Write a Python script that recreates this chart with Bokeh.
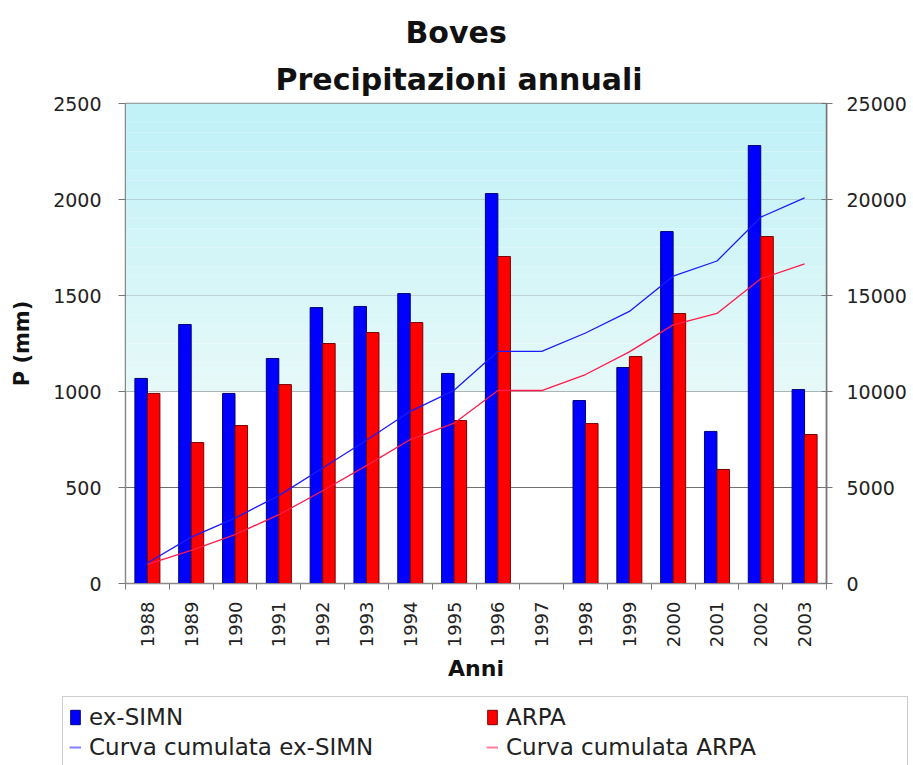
import numpy as np
from bokeh.plotting import figure
from bokeh.layouts import column
from bokeh.models import (Range1d, LinearAxis, FixedTicker, Legend, LegendItem,
                          Title, BoxAnnotation, ColumnDataSource)
from bokeh.transform import dodge
from bokeh.embed import file_html
from bokeh.resources import INLINE

# ---------------- data ----------------
years = [1988, 1989, 1990, 1991, 1992, 1993, 1994, 1995, 1996, 1997,
         1998, 1999, 2000, 2001, 2002, 2003]
ex_simn = [1068, 1349, 990, 1172, 1437, 1443, 1510, 1094, 2031, np.nan,
           953, 1125, 1833, 792, 2281, 1010]
arpa = [990, 734, 823, 1036, 1250, 1307, 1359, 849, 1703, np.nan,
        833, 1182, 1406, 594, 1807, 776]
cum_ex_simn = [1068, 2417, 3407, 4579, 6016, 7459, 8969, 10063, 12094, 12094,
               13047, 14172, 16005, 16797, 19078, 20088]
cum_arpa = [990, 1724, 2547, 3583, 4833, 6140, 7499, 8348, 10051, 10051,
            10884, 12066, 13472, 14066, 15873, 16649]
left_ticks = [0, 500, 1000, 1500, 2000, 2500]
right_ticks = [0, 5000, 10000, 15000, 20000, 25000]
series_labels = ["ex-SIMN", "ARPA", "Curva cumulata ex-SIMN", "Curva cumulata ARPA"]

src = ColumnDataSource(dict(year=years, simn=ex_simn, arpa=arpa,
                            csimn=cum_ex_simn, carpa=cum_arpa))

FONT = "DejaVu Sans"
BLUE, BLUE_EDGE = "#0000ff", "#00007a"
RED, RED_EDGE = "#ff0000", "#7a0000"
LBLUE, LRED = "#1a1aff", "#ff1a4a"

p = figure(width=913, height=690, output_backend="svg", toolbar_location=None,
           x_range=Range1d(1987.5, 2003.5), y_range=Range1d(0, 2500),
           min_border_left=125, min_border_right=87, min_border_top=103,
           min_border_bottom=107, background_fill_color="white",
           border_fill_color="white")
p.frame_align = False
p.extra_y_ranges = {"cum": Range1d(0, 25000)}

# light cyan background, fading towards the 1000 mm line
c_top = np.array([192, 242, 248])
c_bot = np.array([230, 249, 248])
n = 30
edges = np.linspace(1000, 2500, n + 1)
for i in range(n):
    t = i / (n - 1)
    c = (c_bot * (1 - t) + c_top * t).astype(int)
    p.add_layout(BoxAnnotation(bottom=edges[i], top=edges[i + 1],
                               fill_color="#%02x%02x%02x" % tuple(c),
                               fill_alpha=1, line_alpha=0, level="underlay"))

p.outline_line_color = "#8a8a8a"
p.outline_line_width = 1.5
p.xgrid.visible = False
p.ygrid.ticker = FixedTicker(ticks=left_ticks)
p.ygrid.grid_line_color = "#707070"
p.ygrid.grid_line_width = 1
p.ygrid.level = "underlay"

bw = 0.285
p.vbar(x=dodge("year", -0.143, range=p.x_range), top="simn", width=bw,
       source=src, fill_color=BLUE, line_color=BLUE_EDGE, line_width=1)
p.vbar(x=dodge("year", 0.143, range=p.x_range), top="arpa", width=bw,
       source=src, fill_color=RED, line_color=RED_EDGE, line_width=1)
p.line("year", "csimn", source=src, y_range_name="cum",
       line_color=LBLUE, line_width=1.3)
p.line("year", "carpa", source=src, y_range_name="cum",
       line_color=LRED, line_width=1.3)

# axes
xa = p.xaxis[0]
xa.ticker = FixedTicker(ticks=years, minor_ticks=[y - 0.5 for y in years] + [years[-1] + 0.5])
xa.major_tick_out = 0
xa.major_tick_in = 0
xa.minor_tick_out = 6
xa.minor_tick_in = 0
xa.minor_tick_line_color = "#777777"
xa.axis_line_color = "#8a8a8a"
xa.major_label_orientation = np.pi / 2
xa.major_label_text_font = FONT
xa.major_label_text_font_size = "18px"
xa.major_label_text_color = "#222222"
xa.major_label_standoff = 12
xa.axis_label = "Anni"
xa.axis_label_text_font = FONT
xa.axis_label_text_font_size = "22px"
xa.axis_label_text_font_style = "bold"
xa.axis_label_text_color = "#111111"
xa.axis_label_standoff = 6

ya = p.yaxis[0]
ya.ticker = FixedTicker(ticks=left_ticks)
ya.minor_tick_line_color = None
ya.major_tick_out = 7
ya.major_tick_in = 0
ya.major_tick_line_color = "#777777"
ya.axis_line_color = "#8a8a8a"
ya.major_label_text_font = FONT
ya.major_label_text_font_size = "19px"
ya.major_label_text_color = "#222222"
ya.major_label_standoff = 17
ya.axis_label = "P (mm)"
ya.axis_label_text_font = FONT
ya.axis_label_text_font_size = "21px"
ya.axis_label_text_font_style = "bold"
ya.axis_label_text_color = "#111111"
ya.axis_label_standoff = 16

ra = LinearAxis(y_range_name="cum", ticker=FixedTicker(ticks=right_ticks))
ra.minor_tick_line_color = None
ra.major_tick_out = 6
ra.major_tick_in = 5
ra.major_tick_line_color = "#777777"
ra.axis_line_color = "#777777"
ra.axis_line_width = 1.5
ra.major_label_text_font = FONT
ra.major_label_text_font_size = "19px"
ra.major_label_text_color = "#222222"
ra.major_label_standoff = 14
p.add_layout(ra, "right")

# titles (first added is nearest the frame)
p.add_layout(Title(text="Precipitazioni annuali", align="left", offset=150,
                   text_font=FONT, text_font_size="30px", text_font_style="bold",
                   text_color="#111111", standoff=13), "above")
p.add_layout(Title(text="Boves", align="left", offset=280,
                   text_font=FONT, text_font_size="30px", text_font_style="bold",
                   text_color="#111111", standoff=8), "above")

# ---------------- legend panel ----------------
q = figure(width=913, height=75, output_backend="svg", toolbar_location=None,
           x_range=Range1d(0, 1), y_range=Range1d(0, 1),
           x_axis_type=None, y_axis_type=None, min_border=0,
           background_fill_color="white", border_fill_color="white")
q.frame_align = False
q.outline_line_color = None
q.grid.visible = False
empty = ColumnDataSource(dict(x=[np.nan], y=[np.nan]))
g1 = q.vbar(x="x", top="y", width=0.1, source=empty, fill_color=BLUE, line_color=BLUE_EDGE)
g2 = q.vbar(x="x", top="y", width=0.1, source=empty, fill_color=RED, line_color=RED_EDGE)
g3 = q.line("x", "y", source=empty, line_color="#8080ff", line_width=2)
g4 = q.line("x", "y", source=empty, line_color="#ff8098", line_width=2)

legend = Legend(items=[LegendItem(label=series_labels[0], renderers=[g1]),
                       LegendItem(label=series_labels[1], renderers=[g2]),
                       LegendItem(label=series_labels[2], renderers=[g3]),
                       LegendItem(label=series_labels[3], renderers=[g4])],
                orientation="horizontal", ncols=2,
                location=(62, -3),
                glyph_width=12, glyph_height=18, label_standoff=8,
                label_width=395, label_height=28, padding=6, spacing=2,
                margin=0,
                label_text_font=FONT, label_text_font_size="23px",
                label_text_color="#222222",
                border_line_color="#999999", border_line_width=1.5,
                background_fill_color="white", background_fill_alpha=1)
q.add_layout(legend, "center")

layout = column(p, q, spacing=0)
open("out.html", "w").write(file_html(layout, INLINE))
